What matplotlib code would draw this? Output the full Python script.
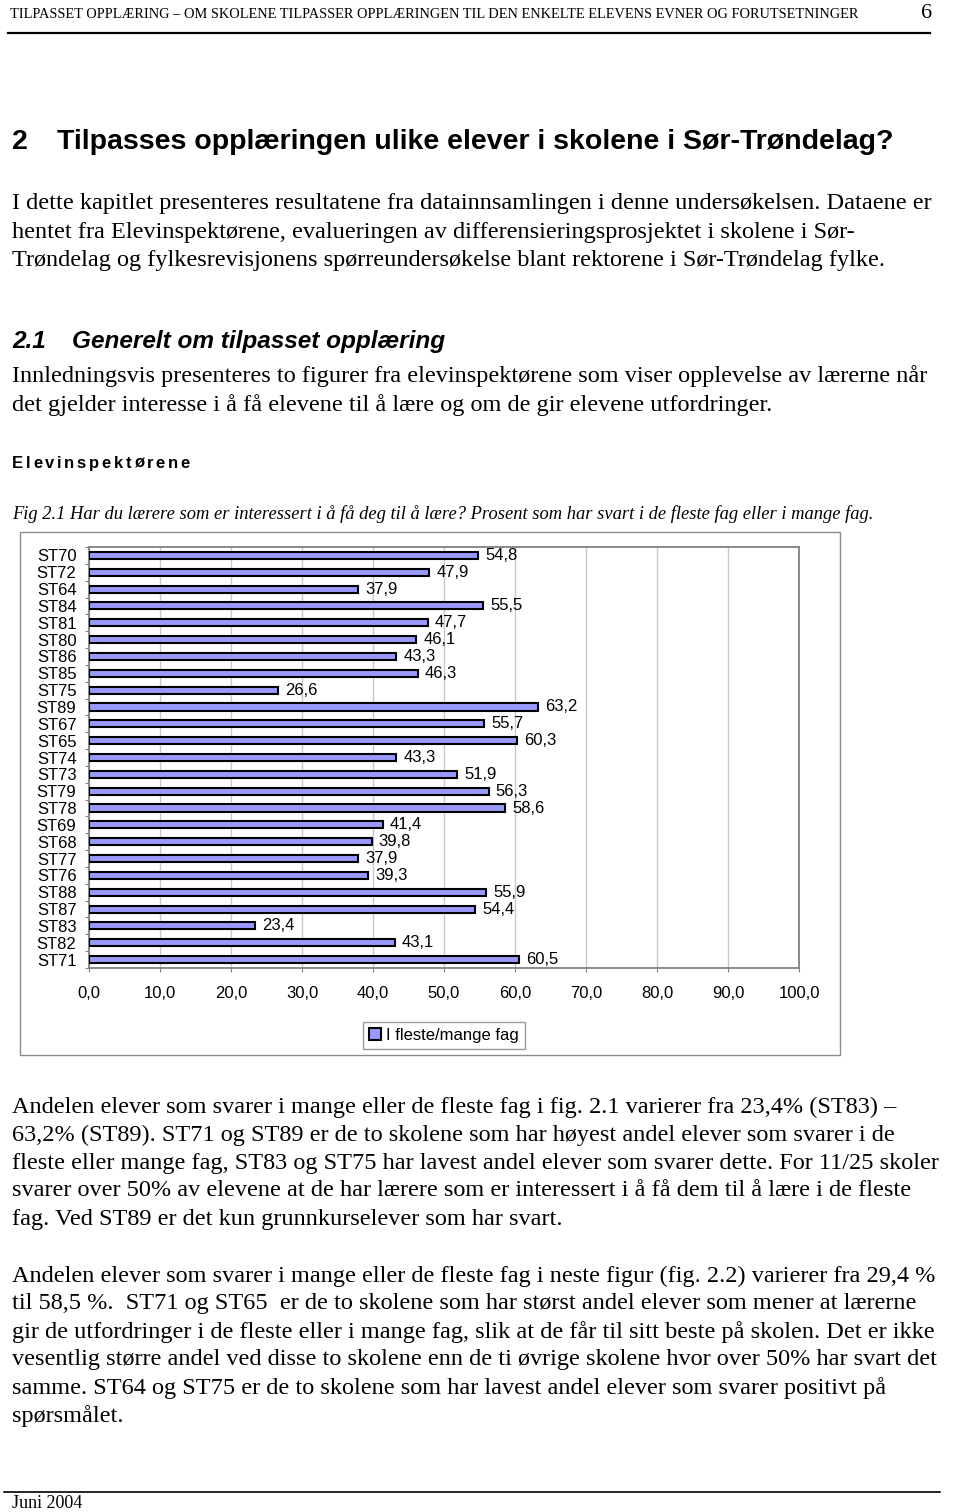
import matplotlib
matplotlib.use("Agg")
import matplotlib.pyplot as plt
from matplotlib.patches import Rectangle
from matplotlib.lines import Line2D
import numpy as np

W, H = 960, 1512

schools = ["ST70", "ST72", "ST64", "ST84", "ST81", "ST80", "ST86", "ST85",
           "ST75", "ST89", "ST67", "ST65", "ST74", "ST73", "ST79", "ST78",
           "ST69", "ST68", "ST77", "ST76", "ST88", "ST87", "ST83", "ST82",
           "ST71"]
values = [54.8, 47.9, 37.9, 55.5, 47.7, 46.1, 43.3, 46.3,
          26.6, 63.2, 55.7, 60.3, 43.3, 51.9, 56.3, 58.6,
          41.4, 39.8, 37.9, 39.3, 55.9, 54.4, 23.4, 43.1,
          60.5]
x_ticks = [0, 10, 20, 30, 40, 50, 60, 70, 80, 90, 100]
series_name = "I fleste/mange fag"

header = ("TILPASSET OPPLÆRING \u2013 OM SKOLENE TILPASSER OPPLÆRINGEN TIL DEN "
          "ENKELTE ELEVENS EVNER OG FORUTSETNINGER")
page_no = "6"
chapter_no = "2"
chapter_title = "Tilpasses opplæringen ulike elever i skolene i Sør-Trøndelag?"
para1 = [
    "I dette kapitlet presenteres resultatene fra datainnsamlingen i denne undersøkelsen. Dataene er",
    "hentet fra Elevinspektørene, evalueringen av differensieringsprosjektet i skolene i Sør-",
    "Trøndelag og fylkesrevisjonens spørreundersøkelse blant rektorene i Sør-Trøndelag fylke.",
]
section_no = "2.1"
section_title = "Generelt om tilpasset opplæring"
para2 = [
    "Innledningsvis presenteres to figurer fra elevinspektørene som viser opplevelse av lærerne når",
    "det gjelder interesse i å få elevene til å lære og om de gir elevene utfordringer.",
]
sub_heading = "Elevinspektørene"
caption = ("Fig 2.1 Har du lærere som er interessert i å få deg til å lære? "
           "Prosent som har svart i de fleste fag eller i mange fag.")
para3 = [
    "Andelen elever som svarer i mange eller de fleste fag i fig. 2.1 varierer fra 23,4% (ST83) \u2013",
    "63,2% (ST89). ST71 og ST89 er de to skolene som har høyest andel elever som svarer i de",
    "fleste eller mange fag, ST83 og ST75 har lavest andel elever som svarer dette. For 11/25 skoler",
    "svarer over 50% av elevene at de har lærere som er interessert i å få dem til å lære i de fleste",
    "fag. Ved ST89 er det kun grunnkurselever som har svart.",
]
para4 = [
    "Andelen elever som svarer i mange eller de fleste fag i neste figur (fig. 2.2) varierer fra 29,4 %",
    "til 58,5 %.  ST71 og ST65  er de to skolene som har størst andel elever som mener at lærerne",
    "gir de utfordringer i de fleste eller i mange fag, slik at de får til sitt beste på skolen. Det er ikke",
    "vesentlig større andel ved disse to skolene enn de ti øvrige skolene hvor over 50% har svart det",
    "samme. ST64 og ST75 er de to skolene som har lavest andel elever som svarer positivt på",
    "spørsmålet.",
]
footer = "Juni 2004"

SERIF = "Liberation Serif"
SANS = "Liberation Sans"
BODY = 17.5
CHART = 12

fig = plt.figure(figsize=(W / 100, H / 100), dpi=100)
fig.patch.set_facecolor("white")


def fx(x):
    return x / W


def fy(y):
    return 1 - y / H


def put(x, y, s, **kw):
    kw.setdefault("family", SERIF)
    kw.setdefault("size", BODY)
    kw.setdefault("va", "center")
    return fig.text(fx(x), fy(y), s, **kw)


def hline(x0, x1, y, lw):
    fig.add_artist(Line2D([fx(x0), fx(x1)], [fy(y), fy(y)], color="black",
                          lw=lw, transform=fig.transFigure))


# page header / footer
put(10, 15, header, size=10.4)
put(921, 13, page_no, size=16)
hline(8, 930, 33, 1.6)
hline(4, 940, 1492, 1.2)
put(12, 1503, footer, size=13)

# chapter heading and text
put(12, 149, chapter_no, family=SANS, weight="bold", size=20.5, va="baseline")
put(57, 149, chapter_title, family=SANS, weight="bold", size=20.5, va="baseline")
for i, line in enumerate(para1):
    put(12, 204 + 28.4 * i, line)

put(12, 348, section_no, family=SANS, weight="bold", style="italic", size=17.6,
    va="baseline")
put(72, 348, section_title, family=SANS, weight="bold", style="italic", size=17.6,
    va="baseline")
for i, line in enumerate(para2):
    put(12, 376 + 29 * i, line)

# letter-spaced sub heading (no letter-spacing in matplotlib, so place glyphs one by one)
renderer = fig.canvas.get_renderer()
xc = 12
for ch in sub_heading:
    t = put(xc, 468, ch, family=SANS, weight="bold", size=12, va="baseline")
    w, _, _ = renderer.get_text_width_height_descent(ch, t.get_fontproperties(), ismath=False)
    xc += w + 2.7

put(12, 514, caption, style="italic", size=13.35)

for i, line in enumerate(para3):
    put(12, 1107 + 28 * i, line)
for i, line in enumerate(para4):
    put(12, 1276 + 28 * i, line)

# chart outer frame
fig.add_artist(Rectangle((fx(20), fy(1055)), fx(840) - fx(20), fy(532) - fy(1055),
                         transform=fig.transFigure, fill=False,
                         edgecolor="#8c8c8c", lw=1.0))

ax = fig.add_axes([fx(89), fy(968), fx(799) - fx(89), fy(547) - fy(968)])
pos = np.arange(len(schools))
bars = ax.barh(pos, values, height=0.42, color="#9999ff", edgecolor="black",
               linewidth=1.5, label=series_name, zorder=3)
for p, v in zip(pos, values):
    ax.text(v + 1.0, p, f"{v:.1f}".replace(".", ","), va="center", ha="left",
            family=SANS, size=CHART, zorder=4)

ax.set_xlim(0, 100)
ax.set_ylim(len(schools) - 0.5, -0.5)
ax.set_xticks(x_ticks)
ax.set_xticklabels([f"{t:.1f}".replace(".", ",") for t in x_ticks],
                   family=SANS, size=CHART)
ax.set_yticks(pos)
ax.set_yticklabels(schools, family=SANS, size=CHART)
ax.set_yticks(np.arange(-0.5, len(schools)), minor=True)
ax.tick_params(axis="y", which="major", length=0, pad=9)
ax.tick_params(axis="y", which="minor", length=3, color="#808080", width=0.8)
ax.tick_params(axis="x", which="major", length=3, color="#808080", width=0.8, pad=10)
ax.grid(axis="x", color="#c8c8c8", lw=1.0, zorder=0)
for side in ["top", "right", "bottom", "left"]:
    ax.spines[side].set_color("#808080")
    ax.spines[side].set_linewidth(1.3)

leg = ax.legend(loc="center", bbox_to_anchor=(fx(444), fy(1035.5)),
                bbox_transform=fig.transFigure, fancybox=False,
                prop={"family": SANS, "size": CHART}, handlelength=0.75,
                handleheight=0.75, handletextpad=0.3, borderpad=0.35,
                framealpha=1)
leg.get_frame().set_edgecolor("#9a9a9a")
leg.get_frame().set_linewidth(1.0)

fig.savefig("out.png", dpi=100, facecolor="white")
